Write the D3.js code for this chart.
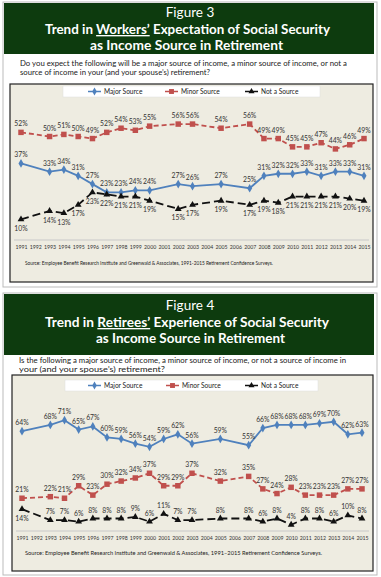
<!DOCTYPE html>
<html>
<head>
<meta charset="utf-8">
<script src="https://cdn.jsdelivr.net/npm/d3@7"></script>
<style>
  body { margin: 0; background: #fff; }
  svg { display: block; font-family: Lato, "Open Sans", sans-serif; }
</style>
</head>
<body>
<svg id="chart" width="381" height="577"></svg>
<script>
// Figure 3 - workers
const fig3Years = [1991, 1993, 1994, 1995, 1996, 1997, 1998, 1999, 2000, 2002, 2003, 2005, 2007, 2008, 2009, 2010, 2011, 2012, 2013, 2014, 2015]
const fig3Major = [37, 33, 34, 31, 27, 23, 23, 24, 24, 27, 26, 27, 25, 31, 32, 32, 33, 31, 33, 33, 31]
const fig3Minor = [52, 50, 51, 50, 49, 52, 54, 53, 55, 56, 56, 54, 56, 49, 49, 45, 45, 47, 44, 46, 49]
const fig3NotSource = [10, 14, 13, 17, 23, 22, 21, 21, 19, 15, 17, 19, 17, 19, 18, 21, 21, 21, 21, 20, 19]

// Figure 4 - retirees
const fig4Years = [1991, 1993, 1994, 1995, 1996, 1997, 1998, 1999, 2000, 2001, 2002, 2003, 2005, 2007, 2008, 2009, 2010, 2011, 2012, 2013, 2014, 2015]
const fig4Major = [64, 68, 71, 65, 67, 60, 59, 56, 54, 59, 62, 56, 59, 55, 66, 68, 68, 68, 69, 70, 62, 63]
const fig4Minor = [21, 22, 21, 29, 23, 30, 32, 34, 37, 29, 29, 37, 32, 35, 27, 24, 28, 23, 23, 23, 27, 27]
const fig4NotSource = [14, 7, 7, 6, 8, 8, 8, 9, 6, 11, 7, 7, 8, 8, 6, 8, 4, 8, 8, 6, 10, 8]

const axisYears = d3.range(1991, 2016)
const seriesNames = ['Major Source', 'Minor Source', 'Not a Source']

const green = '#0d3b0e'
const plotBg = '#eeece1'
const seriesStyle = [
    {color: '#4f81bd', dash: null, symbol: d3.symbolDiamond, size: 22},
    {color: '#c0504d', dash: '5,3', symbol: d3.symbolSquare, size: 30},
    {color: '#111111', dash: '8,4', symbol: d3.symbolTriangle, size: 20}
]

const svg = d3.select('#chart')

function fitText(g, x, y, str, len, size, opts = {}) {
    const t = g.append('text')
        .attr('x', x)
        .attr('y', y)
        .attr('font-size', size)
        .attr('fill', opts.fill || '#222')
        .attr('font-weight', opts.bold ? 'bold' : 'normal')
        .attr('text-anchor', opts.anchor || 'start')
    if (len) t.attr('textLength', len).attr('lengthAdjust', 'spacingAndGlyphs')
    return t.text(str)
}

function drawFigure(cfg) {
    const g = svg.append('g')
    const ht = cfg.top + cfg.headOff

    // panel outline + green header
    g.append('rect')
        .attr('x', 3).attr('y', cfg.top).attr('width', 374).attr('height', cfg.panelH)
        .attr('fill', '#fff').attr('stroke', '#bbb').attr('stroke-width', 1)
    g.append('rect')
        .attr('x', 4).attr('y', cfg.top + 1).attr('width', 370).attr('height', cfg.headerH)
        .attr('fill', green)

    fitText(g, 190, ht + 15, cfg.figLabel, null, 13.5, {fill: '#fff', anchor: 'middle'})
    const t2 = g.append('text')
        .attr('x', 45).attr('y', ht + 32)
        .attr('font-size', 13.5).attr('font-weight', 'bold').attr('fill', '#fff')
        .attr('textLength', cfg.title2Len).attr('lengthAdjust', 'spacingAndGlyphs')
    t2.append('tspan').text('Trend in ')
    t2.append('tspan').attr('text-decoration', 'underline').text(cfg.who)
    t2.append('tspan').text(cfg.title2Rest)
    fitText(g, cfg.title3X, ht + 48, 'as Income Source in Retirement', cfg.title3Len, 13.5, {fill: '#fff', bold: true})

    // question
    fitText(g, cfg.qX, cfg.qY, cfg.question[0], cfg.qLen[0], 7.2)
    fitText(g, cfg.qX, cfg.qY + 9, cfg.question[1], cfg.qLen[1], 7.2)

    // chart frame
    g.append('rect')
        .attr('x', cfg.frame.x).attr('y', cfg.frame.y)
        .attr('width', cfg.frame.w).attr('height', cfg.frame.h)
        .attr('fill', plotBg).attr('stroke', '#222').attr('stroke-width', 1.2)

    const x = d3.scaleLinear().domain([1991, 2015]).range(cfg.xRange)
    const y = d3.scaleLinear().domain([0, cfg.yMax]).range(cfg.yRange)

    // bottom axis
    const axis = g.append('g')
        .attr('transform', `translate(0, ${y(0)})`)
        .call(d3.axisBottom(x).tickValues(axisYears).tickFormat(d3.format('d')).tickSize(0).tickPadding(5))
    axis.select('.domain').attr('stroke', '#c8c8c8').attr('d', `M${cfg.frame.x + 4},0H${cfg.frame.x + cfg.frame.w - 4}`)
    axis.selectAll('text').attr('font-size', 5.2).attr('fill', '#333').attr('font-family', 'Lato, sans-serif')

    // legend
    const lg = g.append('g')
    lg.append('rect')
        .attr('x', cfg.legend.x).attr('y', cfg.legend.y)
        .attr('width', cfg.legend.w).attr('height', 11)
        .attr('fill', '#fff').attr('stroke', '#ddd').attr('stroke-width', 0.5)
    seriesNames.forEach((name, i) => {
        const lx = cfg.legend.items[i]
        const ly = cfg.legend.y + 5.5
        const st = seriesStyle[i]
        lg.append('line')
            .attr('x1', lx).attr('x2', lx + 13).attr('y1', ly).attr('y2', ly)
            .attr('stroke', st.color).attr('stroke-width', 1.5)
        lg.append('path')
            .attr('d', d3.symbol().type(st.symbol).size(st.size * 0.8)())
            .attr('transform', `translate(${lx + 6.5},${ly})`)
            .attr('fill', st.color)
        fitText(lg, lx + 16, ly + 2.4, name, null, 6.6, {fill: '#222'})
    })

    // series
    cfg.series.forEach((values, i) => {
        const st = seriesStyle[i]
        const data = values.map((v, j) => ({year: cfg.years[j], v: v, j: j}))
        const line = d3.line().x(d => x(d.year)).y(d => y(d.v))

        g.append('path')
            .datum(data)
            .attr('d', line)
            .attr('fill', 'none')
            .attr('stroke', st.color)
            .attr('stroke-width', 1.8)
            .attr('stroke-dasharray', st.dash)

        g.selectAll(null)
            .data(data)
            .join('path')
            .attr('d', d3.symbol().type(st.symbol).size(st.size))
            .attr('transform', d => `translate(${x(d.year)},${y(d.v)})`)
            .attr('fill', st.color)

        g.selectAll(null)
            .data(data)
            .join('text')
            .attr('x', d => x(d.year))
            .attr('y', d => cfg.labelBelow(i, d.j) ? y(d.v) + 11.5 : y(d.v) - 6)
            .attr('text-anchor', 'middle')
            .attr('font-size', 6.8)
            .attr('fill', '#333')
            .text(d => d.v + '%')
    })

    fitText(g, cfg.srcX, cfg.srcY, cfg.source, cfg.srcLen, 5.4, {fill: '#222'})
}

drawFigure({
    top: 2, panelH: 285, headerH: 51, headOff: 0,
    figLabel: 'Figure 3',
    who: 'Workers\u2019', title2Rest: ' Expectation of Social Security', title2Len: 285,
    title3X: 90, title3Len: 193,
    question: ['Do you expect the following will be a major source of income, a minor source of income, or not a',
               'source of income in your (and your spouse\u2019s) retirement?'],
    qX: 20, qY: 66, qLen: [327, 190],
    frame: {x: 10, y: 84, w: 363, h: 198},
    legend: {x: 63, y: 86, w: 257, items: [88, 165, 245]},
    xRange: [21, 364], yMax: 60, yRange: [240, 115.8],
    years: fig3Years,
    series: [fig3Major, fig3Minor, fig3NotSource],
    labelBelow: (i, j) => i === 2,
    source: 'Source:  Employee Benefit Research Institute and Greenwald & Associates, 1991-2015 Retirement Confidence Surveys.',
    srcX: 25, srcY: 265, srcLen: 248
})

drawFigure({
    top: 293, panelH: 282, headerH: 61, headOff: 2,
    figLabel: 'Figure 4',
    who: 'Retirees\u2019', title2Rest: ' Experience of Social Security', title2Len: 284,
    title3X: 96, title3Len: 189,
    question: ['Is the following a major source of income, a minor source of income, or not a source of income in',
               'your (and your spouse\u2019s) retirement?'],
    qX: 19, qY: 363, qLen: [327, 146],
    frame: {x: 12, y: 375, w: 361, h: 196},
    legend: {x: 65, y: 380, w: 253, items: [88, 166, 245]},
    xRange: [22, 362], yMax: 80, yRange: [531, 406.2],
    years: fig4Years,
    series: [fig4Major, fig4Minor, fig4NotSource],
    labelBelow: (i, j) => i === 2 && j === 0,
    source: 'Source:  Employee Benefit Research Institute and Greenwald & Associates, 1991\u20132015 Retirement Confidence Surveys.',
    srcX: 25, srcY: 555, srcLen: 297
})
</script>
</body>
</html>
